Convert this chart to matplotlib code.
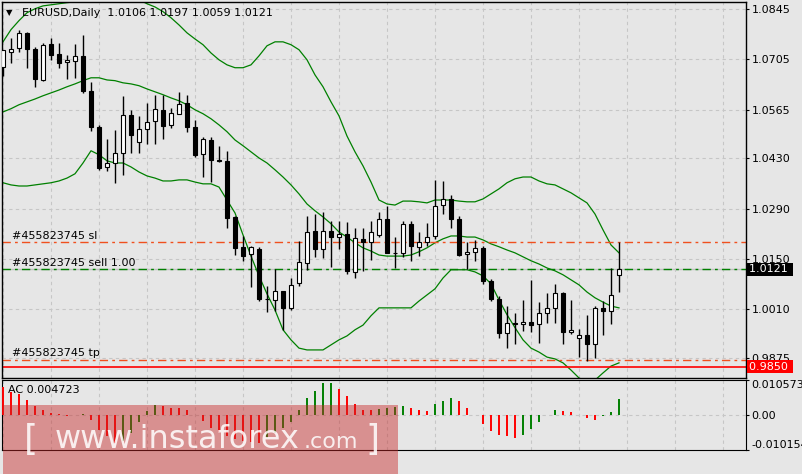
import numpy as np
import matplotlib.pyplot as plt
from matplotlib.patches import Rectangle
from matplotlib.transforms import blended_transform_factory

# EURUSD daily bars, 26 May 2022 .. 12 Sep 2022
opens = [1.0685, 1.0726, 1.0736, 1.0778, 1.0733, 1.0648, 1.0748, 1.0720, 1.0697, 1.0700,
         1.0715, 1.0616, 1.0518, 1.0406, 1.0417, 1.0444, 1.0550, 1.0475, 1.0511, 1.0533,
         1.0565, 1.0522, 1.0553, 1.0583, 1.0517, 1.0441, 1.0481, 1.0424, 1.0423, 1.0266,
         1.0182, 1.0164, 1.0178, 1.0039, 1.0036, 1.0062, 1.0015, 1.0082, 1.0139, 1.0227,
         1.0178, 1.0229, 1.0211, 1.0219, 1.0115, 1.0206, 1.0197, 1.0216, 1.0262, 1.0166,
         1.0166, 1.0247, 1.0183, 1.0198, 1.0213, 1.0299, 1.0317, 1.0260, 1.0163, 1.0169,
         1.0181, 1.0090, 1.0039, 0.9943, 0.9971, 0.9968, 0.9974, 0.9968, 0.9999, 1.0013,
         1.0055, 0.9947, 0.9931, 0.9939, 0.9913, 1.0015, 1.0006, 1.0106]
highs = [1.0732, 1.0764, 1.0787, 1.0780, 1.0741, 1.0752, 1.0764, 1.0750, 1.0718, 1.0747,
         1.0773, 1.0641, 1.0523, 1.0485, 1.0509, 1.0604, 1.0565, 1.0548, 1.0583, 1.0605,
         1.0605, 1.0570, 1.0615, 1.0606, 1.0536, 1.0490, 1.0488, 1.0464, 1.0449, 1.0270,
         1.0215, 1.0187, 1.0182, 1.0074, 1.0123, 1.0062, 1.0096, 1.0201, 1.0270, 1.0275,
         1.0280, 1.0257, 1.0257, 1.0253, 1.0235, 1.0236, 1.0256, 1.0280, 1.0296, 1.0211,
         1.0256, 1.0257, 1.0225, 1.0250, 1.0370, 1.0367, 1.0327, 1.0270, 1.0197, 1.0204,
         1.0187, 1.0094, 1.0048, 1.0019, 0.9999, 1.0036, 1.0092, 1.0029, 1.0055, 1.0081,
         1.0059, 1.0036, 0.9954, 0.9994, 1.0020, 1.0032, 1.0124, 1.0197]
lows = [1.0659, 1.0696, 1.0725, 1.0681, 1.0628, 1.0644, 1.0704, 1.0682, 1.0652, 1.0654,
        1.0611, 1.0507, 1.0398, 1.0396, 1.0361, 1.0383, 1.0444, 1.0446, 1.0471, 1.0469,
        1.0484, 1.0513, 1.0552, 1.0502, 1.0435, 1.0379, 1.0365, 1.0419, 1.0235, 1.0161,
        1.0145, 1.0073, 1.0033, 1.0002, 1.0004, 0.9952, 1.0008, 1.0075, 1.0120, 1.0155,
        1.0153, 1.0129, 1.0178, 1.0108, 1.0096, 1.0117, 1.0146, 1.0211, 1.0166, 1.0124,
        1.0156, 1.0143, 1.0159, 1.0187, 1.0206, 1.0275, 1.0237, 1.0157, 1.0122, 1.0145,
        1.0079, 1.0033, 0.9929, 0.9901, 0.9914, 0.9949, 0.9947, 0.9916, 0.9973, 0.9973,
        0.9913, 0.9941, 0.9878, 0.9865, 0.9874, 0.9939, 0.9969, 1.0059]
closes = [1.0730, 1.0733, 1.0778, 1.0733, 1.0652, 1.0745, 1.0716, 1.0694, 1.0703, 1.0715,
          1.0616, 1.0516, 1.0404, 1.0417, 1.0444, 1.0550, 1.0495, 1.0511, 1.0532, 1.0567,
          1.0521, 1.0556, 1.0581, 1.0518, 1.0439, 1.0483, 1.0425, 1.0423, 1.0263, 1.0181,
          1.0159, 1.0182, 1.0039, 1.0038, 1.0061, 1.0015, 1.0077, 1.0141, 1.0226, 1.0178,
          1.0229, 1.0211, 1.0220, 1.0117, 1.0208, 1.0197, 1.0225, 1.0262, 1.0166, 1.0166,
          1.0247, 1.0185, 1.0196, 1.0212, 1.0298, 1.0317, 1.0261, 1.0161, 1.0170, 1.0180,
          1.0088, 1.0039, 0.9943, 0.9971, 0.9969, 0.9974, 0.9966, 0.9999, 1.0015, 1.0055,
          0.9946, 0.9953, 0.9939, 0.9913, 1.0013, 1.0006, 1.0051, 1.0121]

# Bollinger bands as drawn on the chart
bb_upper = [1.0754, 1.0788, 1.0813, 1.0835, 1.0846, 1.0854, 1.0857, 1.0860, 1.0863, 1.0865,
            1.0868, 1.0879, 1.0888, 1.0893, 1.0893, 1.0888, 1.0879, 1.0871, 1.0860, 1.0851,
            1.0838, 1.0821, 1.0801, 1.0779, 1.0762, 1.0746, 1.0723, 1.0704, 1.0690, 1.0682,
            1.0682, 1.0690, 1.0715, 1.0743, 1.0754, 1.0754, 1.0746, 1.0732, 1.0704, 1.0662,
            1.0629, 1.0587, 1.0548, 1.0492, 1.0448, 1.0409, 1.0364, 1.0314, 1.0303, 1.0300,
            1.0311, 1.0311, 1.0309, 1.0306, 1.0314, 1.0314, 1.0314, 1.0311, 1.0309, 1.0309,
            1.0317, 1.0331, 1.0345, 1.0362, 1.0373, 1.0378, 1.0378, 1.0367, 1.0359, 1.0356,
            1.0345, 1.0334, 1.0320, 1.0306, 1.0275, 1.0231, 1.0189, 1.0167]
bb_middle = [1.0559, 1.0568, 1.0579, 1.0587, 1.0595, 1.0604, 1.0612, 1.0620, 1.0629, 1.0637,
             1.0646, 1.0654, 1.0654, 1.0648, 1.0646, 1.0640, 1.0637, 1.0632, 1.0623, 1.0615,
             1.0607, 1.0598, 1.0590, 1.0579, 1.0565, 1.0554, 1.0540, 1.0523, 1.0504, 1.0481,
             1.0465, 1.0448, 1.0431, 1.0417, 1.0398, 1.0378, 1.0356, 1.0331, 1.0303, 1.0284,
             1.0267, 1.0248, 1.0225, 1.0211, 1.0195, 1.0181, 1.0172, 1.0161, 1.0158, 1.0158,
             1.0158, 1.0161, 1.0170, 1.0181, 1.0195, 1.0206, 1.0214, 1.0214, 1.0211, 1.0211,
             1.0203, 1.0192, 1.0184, 1.0175, 1.0167, 1.0156, 1.0145, 1.0136, 1.0125, 1.0117,
             1.0106, 1.0092, 1.0078, 1.0058, 1.0042, 1.0030, 1.0019, 1.0014]
bb_lower = [1.0362, 1.0356, 1.0353, 1.0353, 1.0356, 1.0359, 1.0362, 1.0367, 1.0375, 1.0387,
            1.0417, 1.0451, 1.0440, 1.0423, 1.0417, 1.0417, 1.0406, 1.0392, 1.0381, 1.0375,
            1.0367, 1.0367, 1.0370, 1.0370, 1.0364, 1.0359, 1.0359, 1.0350, 1.0314, 1.0278,
            1.0217, 1.0158, 1.0103, 1.0053, 1.0008, 0.9953, 0.9925, 0.9902, 0.9897, 0.9897,
            0.9897, 0.9911, 0.9925, 0.9936, 0.9953, 0.9966, 0.9992, 1.0014, 1.0014, 1.0014,
            1.0014, 1.0014, 1.0033, 1.0050, 1.0067, 1.0097, 1.0120, 1.0120, 1.0120, 1.0114,
            1.0103, 1.0081, 1.0036, 0.9995, 0.9959, 0.9925, 0.9902, 0.9891, 0.9877, 0.9872,
            0.9861, 0.9841, 0.9819, 0.9808, 0.9813, 0.9833, 0.9852, 0.9861]

# Accelerator oscillator
ac_values = [0.0084, 0.0069, 0.0064, 0.0046, 0.0027, 0.0015, 0.0008, 0.0003, -0.0002, 0.0001,
             0.0003, -0.0012, -0.0044, -0.0059, -0.0080, -0.0074, -0.0053, -0.0020, 0.0012, 0.0032,
             0.0029, 0.0023, 0.0022, 0.0015, 0.0001, -0.0015, -0.0038, -0.0050, -0.0059, -0.0068,
             -0.0074, -0.0077, -0.0080, -0.0065, -0.0053, -0.0038, -0.0018, 0.0015, 0.0050, 0.0071,
             0.0094, 0.0095, 0.0079, 0.0056, 0.0033, 0.0017, 0.0015, 0.0018, 0.0023, 0.0024,
             0.0027, 0.0023, 0.0015, 0.0012, 0.0033, 0.0043, 0.0052, 0.0043, 0.0023, 0.0000,
             -0.0025, -0.0045, -0.0056, -0.0059, -0.0066, -0.0056, -0.0039, -0.0018, 0.0002, 0.0017,
             0.0014, 0.0009, 0.0000, -0.0007, -0.0013, -0.0003, 0.0011, 0.004723]

date_labels = ['26 May 2022', '13 Jun 2022', '29 Jun 2022', '15 Jul 2022',
               '2 Aug 2022', '18 Aug 2022', '5 Sep 2022']
date_pos = [0, 12, 24, 36, 48, 60, 72]
price_ticks = [1.0845, 1.0705, 1.0565, 1.0430, 1.0290, 1.0150, 1.0010, 0.9875]

sl_price = 1.0197
sell_price = 1.0121
tp_price = 0.9870
level_price = 0.9850
last_price = 1.0121
ac_top, ac_bottom = 0.010573, -0.010154

W, H = 803, 474
BG = '#e6e6e6'
GRID = '#c6c6c6'
GREEN = '#008000'
ORANGE = '#f0501e'

plt.rcParams['font.family'] = 'DejaVu Sans'
plt.rcParams['font.size'] = 8

fig = plt.figure(figsize=(W / 100, H / 100), dpi=100, facecolor=BG)


def px_box(x0, y0, x1, y1):
    return [x0 / W, 1 - y1 / H, (x1 - x0) / W, (y1 - y0) / H]


ax = fig.add_axes(px_box(2, 1.5, 746, 377.5), facecolor=BG)
ax2 = fig.add_axes(px_box(2, 379.5, 746, 450), facecolor=BG)

x = np.arange(len(opens))
o, h, l, c = (np.array(a) for a in (opens, highs, lows, closes))

# candles
ax.vlines(x, l, h, color='black', lw=1, zorder=3)
body_col = np.where(c >= o, 'white', 'black')
ax.bar(x, np.abs(c - o), bottom=np.minimum(o, c), width=0.55,
       color=body_col, edgecolor='black', lw=0.8, zorder=4)

# bollinger bands
for band in (bb_upper, bb_middle, bb_lower):
    ax.plot(x, band, color=GREEN, lw=0.9, zorder=2)

# order levels
dashdot = (0, (6, 3, 2, 3))
ax.axhline(last_price, color='#c0c0c0', lw=1, zorder=1)
ax.axhline(sl_price, color=ORANGE, lw=1, ls=dashdot, zorder=2)
ax.axhline(sell_price, color=GREEN, lw=1, ls=dashdot, zorder=2)
ax.axhline(tp_price, color=ORANGE, lw=1, ls=dashdot, zorder=2)
ax.axhline(level_price, color='red', lw=1.2, zorder=2)

lbl_tr = blended_transform_factory(ax.transAxes, ax.transData)
ax.text(0.013, sl_price + 0.0004, '#455823745 sl', transform=lbl_tr, va='bottom', fontsize=8)
ax.text(0.013, sell_price + 0.0004, '#455823745 sell 1.00', transform=lbl_tr, va='bottom', fontsize=8)
ax.text(0.013, tp_price + 0.0004, '#455823745 tp', transform=lbl_tr, va='bottom', fontsize=8)

# price labels on the axis
ax.text(1.004, last_price, '1.0121 ', transform=lbl_tr, va='center', ha='left', color='white',
        fontsize=8, zorder=10, clip_on=False,
        bbox=dict(boxstyle='square,pad=0.15', fc='black', ec='none'))
ax.text(1.004, level_price, '0.9850 ', transform=lbl_tr, va='center', ha='left', color='white',
        fontsize=8, zorder=10, clip_on=False,
        bbox=dict(boxstyle='square,pad=0.15', fc='red', ec='none'))

ax.set_xlim(-0.125, 92.875)
ax.set_ylim(0.98203, 1.08662)
ax.set_yticks(price_ticks)
ax.set_yticklabels([f'{p:.4f}' for p in price_ticks])
ax.yaxis.tick_right()
ax.tick_params(axis='y', length=2.5, pad=1.5, width=0.8)
ax.set_xticks(np.arange(0, 93, 6))
ax.tick_params(axis='x', length=0, labelbottom=False)
ax.grid(True, color=GRID, ls=(0, (3, 3)), lw=0.8)
for s in ax.spines.values():
    s.set_linewidth(1)

# AC panel
ac = np.array(ac_values)
ac_col = ['red'] + [GREEN if ac[i] > ac[i - 1] else 'red' for i in range(1, len(ac))]
ax2.vlines(x, 0, ac, colors=ac_col, lw=1.4, zorder=3)
ax2.axhline(0, color=GRID, ls=(0, (3, 3)), lw=0.8, zorder=1)
ax2.set_xlim(-0.125, 92.875)
ax2.set_ylim(ac_bottom, ac_top)
ax2.set_xticks(np.arange(0, 93, 6))
ax2.grid(True, axis='x', color=GRID, ls=(0, (3, 3)), lw=0.8)
ax2.tick_params(axis='x', which='major', length=0, labelbottom=False)
ax2.set_xticks(date_pos, minor=True)
ax2.set_xticklabels(date_labels, minor=True)
ax2.tick_params(axis='x', which='minor', length=3, pad=3)
for t in ax2.get_xticklabels(minor=True):
    t.set_ha('left')
ax2.yaxis.tick_right()
ax2.set_yticks([ac_top, 0, ac_bottom])
ax2.set_yticklabels(['0.010573', '0.00', '-0.010154'])
ax2.tick_params(axis='y', length=2.5, pad=1.5, width=0.8)
ylabs = ax2.get_yticklabels()
ylabs[0].set_va('top')
ylabs[2].set_va('bottom')

# header texts
fig.text(6 / W, 1 - 13 / H, '\u25bc', fontsize=6, va='center')
fig.text(22 / W, 1 - 13 / H, 'EURUSD,Daily  1.0106 1.0197 1.0059 1.0121', va='center', fontsize=8)
fig.text(8 / W, 1 - 390 / H, 'AC 0.004723', va='center', fontsize=8)

# watermark
fig.add_artist(Rectangle((3 / W, 0), 395 / W, (474 - 405) / H, transform=fig.transFigure,
                         fc=(0.78, 0.16, 0.16), ec='none', alpha=0.45, zorder=20))
wm = dict(color='white', alpha=0.85, zorder=21, va='baseline')
fig.text(24 / W, 1 - 450 / H, '[', fontsize=26, **wm)
fig.text(55 / W, 1 - 448 / H, 'www.instaforex', fontsize=23, **wm)
fig.text(304 / W, 1 - 448 / H, '.com', fontsize=16, **wm)
fig.text(365 / W, 1 - 450 / H, ']', fontsize=26, **wm)

fig.savefig('out.png', dpi=100, facecolor=BG)
